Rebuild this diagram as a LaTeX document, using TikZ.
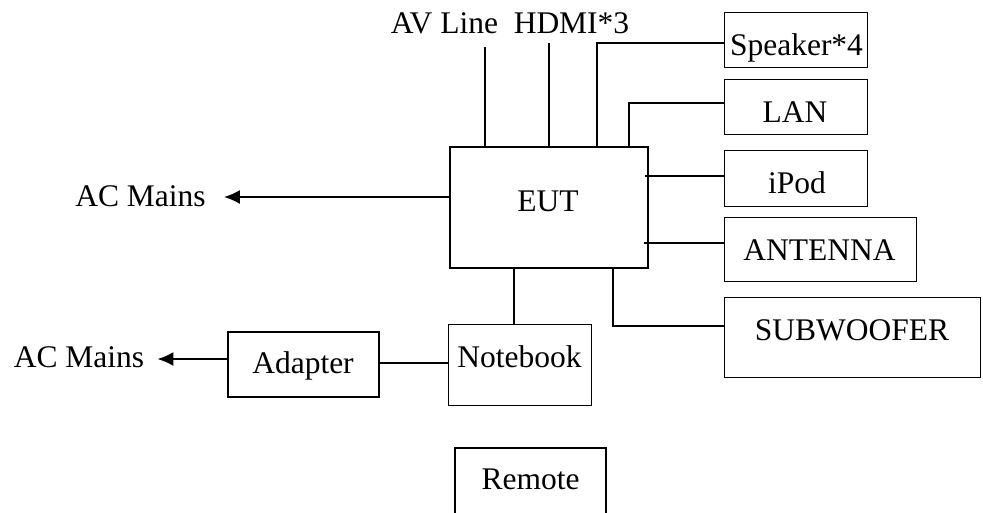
\documentclass[tikz,border=0pt]{standalone}
\usepackage{fontspec}
\setmainfont{Liberation Serif}
\usetikzlibrary{arrows.meta}
\begin{document}
\begin{tikzpicture}[
    x=1pt, y=-1pt,
    >={Latex[length=16pt,width=14pt]},
    every node/.style={font=\fontsize{31.5}{38}\selectfont},
    lbl/.style={inner sep=0pt, anchor=base},
    thinbox/.style={draw, line width=1pt, inner sep=0pt},
    thickbox/.style={draw, line width=1.8pt, inner sep=0pt},
    wire/.style={line width=1.8pt}
  ]
    \useasboundingbox (0,0) rectangle (983,512);

    % Boxes --------------------------------------------------------
    \node[thickbox, minimum width=198pt, minimum height=121pt] (eut) at (549,207.5) {};
    \node[thinbox, minimum width=143pt, minimum height=55pt] (spk) at (795.5,39.5) {};
    \node[thinbox, minimum width=143pt, minimum height=55pt] (lan) at (795.5,106.5) {};
    \node[thinbox, minimum width=143pt, minimum height=56pt] (ipod) at (795.5,178) {};
    \node[thinbox, minimum width=192pt, minimum height=64pt] (ant) at (820,249) {};
    \node[thinbox, minimum width=256pt, minimum height=80pt] (sub) at (852,337) {};
    \node[thinbox, minimum width=143pt, minimum height=81pt] (nb) at (519.5,364.5) {};
    \node[thickbox, minimum width=151pt, minimum height=65pt] (adp) at (303.5,364.5) {};
    \node[thickbox, minimum width=151pt, minimum height=82pt] (rem) at (530.5,489) {};

    % Texts --------------------------------------------------------
    \node[lbl] (eut-t) at (548,211) {EUT};
    \node[lbl] (spk-t) at (796.5,55) {Speaker*4};
    \node[lbl] (lan-t) at (795,122) {LAN};
    \node[lbl] (ipod-t) at (797,193) {iPod};
    \node[lbl] (ant-t) at (819.5,260) {ANTENNA};
    \node[lbl] (sub-t) at (852,340) {SUBWOOFER};
    \node[lbl] (nb-t) at (519.5,367) {Notebook};
    \node[lbl] (adp-t) at (303,373) {Adapter};
    \node[lbl] (rem-t) at (530.5,489) {Remote};
    \node[lbl] (av-t) at (444.5,33) {AV Line};
    \node[lbl] (hdmi-t) at (571.5,33) {HDMI*3};
    \node[lbl] (ac1) at (140.5,206) {AC Mains};
    \node[lbl] (ac2) at (79,367) {AC Mains};

    % Lines on top of EUT ------------------------------------------
    \coordinate (av) at (485,47);
    \coordinate (hdmi) at (549,43);
    \draw[wire] (av) -- (av |- eut.north);
    \draw[wire] (hdmi) -- (hdmi |- eut.north);
    \draw[wire] ([yshift=-3.5pt]spk.west) -| ([xshift=48pt]eut.north);
    \draw[wire] ([yshift=3.5pt]lan.west) -| ([xshift=80pt]eut.north);

    % Lines on the right -------------------------------------------
    \coordinate (ipod-in) at ([yshift=2pt]ipod.west);
    \draw[wire] (ipod-in) -- (ipod-in -| eut.east) -- ++(-4,0);
    \coordinate (ant-in) at ([yshift=6pt]ant.west);
    \draw[wire] (ant-in) -- (ant-in -| eut.east) -- ++(-5,0);
    \draw[wire] ([xshift=64pt]eut.south) |- ([yshift=11pt]sub.west);

    % Notebook and adapter -----------------------------------------
    \coordinate (nb-up) at ([xshift=-35pt]eut.south);
    \draw[wire] (nb-up) -- (nb-up |- nb.north);
    \coordinate (adp-out) at ([yshift=1.5pt]adp.east);
    \draw[wire] (adp-out) -- (adp-out -| nb.west);

    % Arrows to AC Mains -------------------------------------------
    \coordinate (ac1-in) at ([yshift=10.5pt]eut.west);
    \coordinate (ac1-tip) at ([xshift=18pt]ac1.east);
    \draw[wire,->] (ac1-in) -- (ac1-in -| ac1-tip);
    \coordinate (ac2-in) at ([yshift=5.5pt]adp.west);
    \coordinate (ac2-tip) at ([xshift=13pt]ac2.east);
    \draw[wire,->] (ac2-in) -- (ac2-in -| ac2-tip);

  \end{tikzpicture}
\end{document}
